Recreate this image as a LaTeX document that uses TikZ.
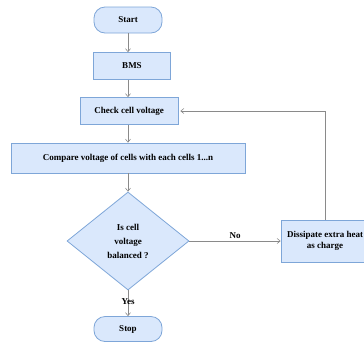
\documentclass[tikz,border=0pt]{standalone}
\usepackage{fontspec}
\setmainfont{Liberation Serif}
\usepackage{xcolor}
\usetikzlibrary{positioning, calc, shapes.geometric, arrows.meta}

\definecolor{BoxFill}{HTML}{DAE8FC}
\definecolor{BoxLine}{HTML}{7EA6D8}
\definecolor{FlowLine}{HTML}{8A8A8A}

\begin{document}
\begin{tikzpicture}[x=1pt, y=1pt,
					BaseNode/.style={draw=BoxLine, fill=BoxFill, thick, font=\fontsize{9}{10.5}\selectfont\bfseries, align=center, inner sep=1pt},
					TermNode/.style={BaseNode, rounded corners=11pt, minimum width=68pt, minimum height=26pt},
					ProcNode/.style={BaseNode, minimum height=27pt},
					DecNode/.style={BaseNode, diamond, minimum width=122pt, minimum height=98pt, font=\fontsize{9}{14}\selectfont\bfseries},
					FlowArrow/.style={draw=FlowLine, semithick, -{Straight Barb[length=3pt, width=5pt]}}]

				\useasboundingbox (0,0) rectangle (364,-341);

				\node[TermNode] (Start) at (128,-20) {Start};
				\node[ProcNode, minimum width=77pt] (Bms) at (132,-66) {BMS};
				\node[ProcNode, minimum width=98pt] (CheckVolt) at (129,-111) {Check cell voltage};
				\node[ProcNode, minimum width=234pt, minimum height=30pt] (Compare) at (128,-158) {Compare voltage of cells with each cells 1...n};
				\node[DecNode] (Balanced) at (128,-241) {Is cell\\voltage\\balanced ?};
				\node[ProcNode, minimum width=88pt, minimum height=42pt] (Dissipate) at (325,-241) {Dissipate extra heat\\as charge};
				\node[TermNode, minimum height=25pt] (Stop) at (128,-329) {Stop};

				\draw[FlowArrow] (Start) -- (Start |- Bms.north);
				\draw[FlowArrow] (Start |- Bms.south) -- (Start |- CheckVolt.north);
				\draw[FlowArrow] (Start |- CheckVolt.south) -- (Compare);
				\draw[FlowArrow] (Compare) -- (Balanced);
				\draw[FlowArrow] (Balanced) -- (Stop) node[pos=0.42, font=\fontsize{9}{10.5}\selectfont\bfseries] () {Yes};
				\draw[FlowArrow] (Balanced) -- (Dissipate) node[pos=0.5, above=-1pt, font=\fontsize{9}{10.5}\selectfont\bfseries] () {No};
				\draw[FlowArrow, shorten >=2pt] (Dissipate.north) |- (CheckVolt.east);
			\end{tikzpicture}
\end{document}
